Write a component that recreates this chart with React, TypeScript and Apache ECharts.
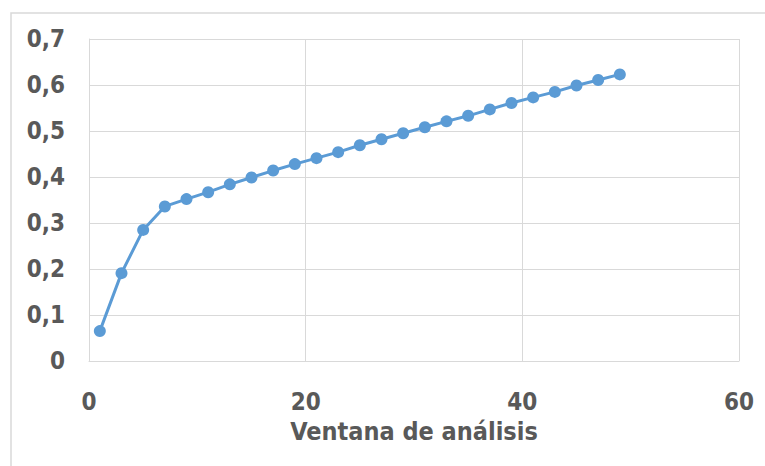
import React, { useEffect, useRef } from "react";
import * as echarts from "echarts";

// Analysis window size (x) and the measured value for each window (y)
const windowSizes = [1, 3, 5, 7, 9, 11, 13, 15, 17, 19, 21, 23, 25, 27, 29, 31, 33, 35, 37, 39, 41, 43, 45, 47, 49];
const values = [
  0.065, 0.191, 0.285, 0.336, 0.352, 0.367, 0.384, 0.399, 0.414, 0.428,
  0.441, 0.454, 0.469, 0.482, 0.495, 0.508, 0.521, 0.533, 0.547, 0.561,
  0.573, 0.585, 0.599, 0.611, 0.623,
];
const xAxisTitle = "Ventana de análisis";

const labelFont = "'DejaVu Sans Condensed', 'DejaVu Sans', sans-serif";
const textColor = "#595959";
const gridColor = "#d9d9d9";

const fmt = (v: number) => (v === 0 ? "0" : String(Math.round(v * 10) / 10).replace(".", ","));

export default function App() {
  const ref = useRef<HTMLDivElement>(null);

  useEffect(() => {
    if (!ref.current) return;
    const chart = echarts.init(ref.current, undefined, { renderer: "svg" });
    chart.setOption({
      animation: false,
      backgroundColor: "#ffffff",
      grid: { left: 89, right: 26, top: 39, bottom: 105 },
      graphic: [
        {
          type: "rect",
          shape: { x: 11, y: 13, width: 800, height: 500 },
          style: { fill: "none", stroke: gridColor, lineWidth: 1.5 },
          silent: true,
          z: -1,
        },
      ],
      xAxis: {
        type: "value",
        min: 0,
        max: 60,
        interval: 20,
        name: xAxisTitle,
        nameLocation: "middle",
        nameGap: 58,
        nameTextStyle: {
          fontFamily: labelFont,
          fontWeight: "bold",
          fontSize: 25,
          color: textColor,
        },
        axisLine: { show: true, lineStyle: { color: gridColor, width: 1 } },
        axisTick: { show: false },
        splitLine: { show: true, lineStyle: { color: gridColor, width: 1 } },
        axisLabel: {
          margin: 29,
          fontFamily: labelFont,
          fontWeight: "bold",
          fontSize: 24,
          color: textColor,
          formatter: (v: number) => fmt(v),
        },
      },
      yAxis: {
        type: "value",
        min: 0,
        max: 0.7,
        interval: 0.1,
        axisLine: { show: true, lineStyle: { color: gridColor, width: 1 } },
        axisTick: { show: false },
        splitLine: { show: true, lineStyle: { color: gridColor, width: 1 } },
        axisLabel: {
          margin: 24,
          fontFamily: labelFont,
          fontWeight: "bold",
          fontSize: 24,
          color: textColor,
          formatter: (v: number) => fmt(v),
        },
      },
      series: [
        {
          type: "line",
          data: windowSizes.map((x, i) => [x, values[i]]),
          symbol: "circle",
          symbolSize: 12,
          itemStyle: { color: "#5b9bd5" },
          lineStyle: { color: "#5b9bd5", width: 3 },
        },
      ],
    });
    return () => chart.dispose();
  }, []);

  return (
    <div
      ref={ref}
      style={{ position: "absolute", left: 0, top: 0, width: 765, height: 466 }}
    />
  );
}
